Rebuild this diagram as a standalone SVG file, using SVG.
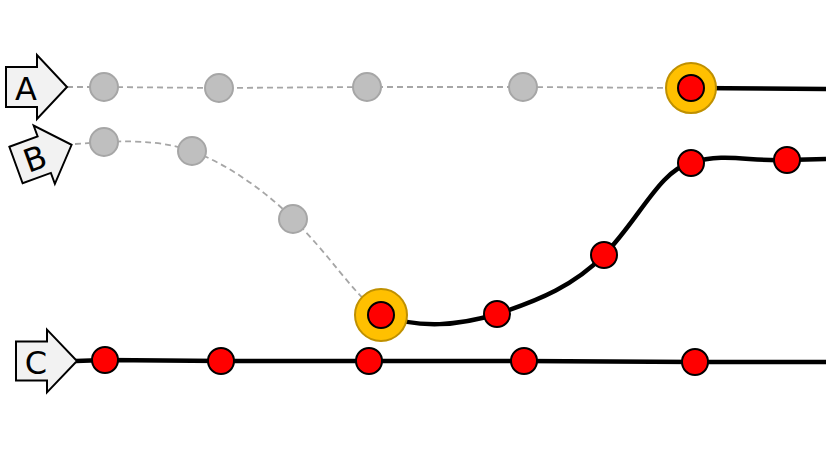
<svg xmlns="http://www.w3.org/2000/svg" width="826" height="465" viewBox="0 0 826 465">
<style>
.arrow{fill:#f2f2f2;stroke:#000;stroke-width:2;stroke-linejoin:miter}
.lbl{font-family:"DejaVu Sans",sans-serif;font-size:32px;fill:#000;text-anchor:middle;dominant-baseline:central}
.dash{fill:none;stroke:#a6a6a6;stroke-width:1.8;stroke-dasharray:6 4}
.solid{fill:none;stroke:#000;stroke-width:4.5}
.gray{fill:#bfbfbf;stroke:#a6a6a6;stroke-width:2}
.red{fill:#ff0000;stroke:#000;stroke-width:2}
.halo{fill:#ffc000;stroke:#bf9000;stroke-width:2}
</style>
<defs>
<path id="arr" d="M0,-20 L31,-20 L31,-32 L61,0 L31,32 L31,20 L0,20 Z"/>
</defs>
<g id="connectors">
<path class="dash" d="M67,87 L104,87 L219,88 L367,87 L523,87 L691,88"/>
<path class="solid" d="M691,88 L826,89"/>
<path class="dash" d="M75,144 L104,142 C140,140 170,143 192,151 C230,165 270,195 293,219 C330,255 350,290 380,314"/>
<path class="solid" d="M380,314 C420,330 460,325 497,314 C540,300 575,285 604,255 C640,218 660,170 691,163 C725,152 750,162 787,160 L826,159"/>
<path class="solid" d="M76,361 L105,360 L221,361 L369,361 L524,361 L695,362 L826,362"/>
</g>
<g id="arrowA"><use href="#arr" class="arrow" transform="translate(6,87)"/><text class="lbl" x="26" y="89">A</text></g>
<g id="arrowB"><use href="#arr" class="arrow" transform="translate(16,165) rotate(-20) scale(0.97)"/><text class="lbl" x="35" y="159" transform="rotate(-20 35 159)">B</text></g>
<g id="arrowC"><use href="#arr" class="arrow" transform="translate(16,361) scale(1,0.98)"/><text class="lbl" x="36" y="363">C</text></g>
<g id="a1"><circle class="gray" cx="104" cy="87" r="14"/></g>
<g id="a2"><circle class="gray" cx="219" cy="88" r="14"/></g>
<g id="a3"><circle class="gray" cx="367" cy="87" r="14"/></g>
<g id="a4"><circle class="gray" cx="523" cy="87" r="14"/></g>
<g id="a5"><circle class="halo" cx="691" cy="88" r="25"/><circle class="red" cx="691" cy="88" r="13"/></g>
<g id="b1"><circle class="gray" cx="104" cy="142" r="14"/></g>
<g id="b2"><circle class="gray" cx="192" cy="151" r="14"/></g>
<g id="b3"><circle class="gray" cx="293" cy="219" r="14"/></g>
<g id="b4"><circle class="halo" cx="381" cy="315" r="26"/><circle class="red" cx="381" cy="315" r="13"/></g>
<g id="b5"><circle class="red" cx="497" cy="314" r="13"/></g>
<g id="b6"><circle class="red" cx="604" cy="255" r="13"/></g>
<g id="b7"><circle class="red" cx="691" cy="163" r="13"/></g>
<g id="b8"><circle class="red" cx="787" cy="160" r="13"/></g>
<g id="c1"><circle class="red" cx="105" cy="360" r="13"/></g>
<g id="c2"><circle class="red" cx="221" cy="361" r="13"/></g>
<g id="c3"><circle class="red" cx="369" cy="361" r="13"/></g>
<g id="c4"><circle class="red" cx="524" cy="361" r="13"/></g>
<g id="c5"><circle class="red" cx="695" cy="362" r="13"/></g>
</svg>
